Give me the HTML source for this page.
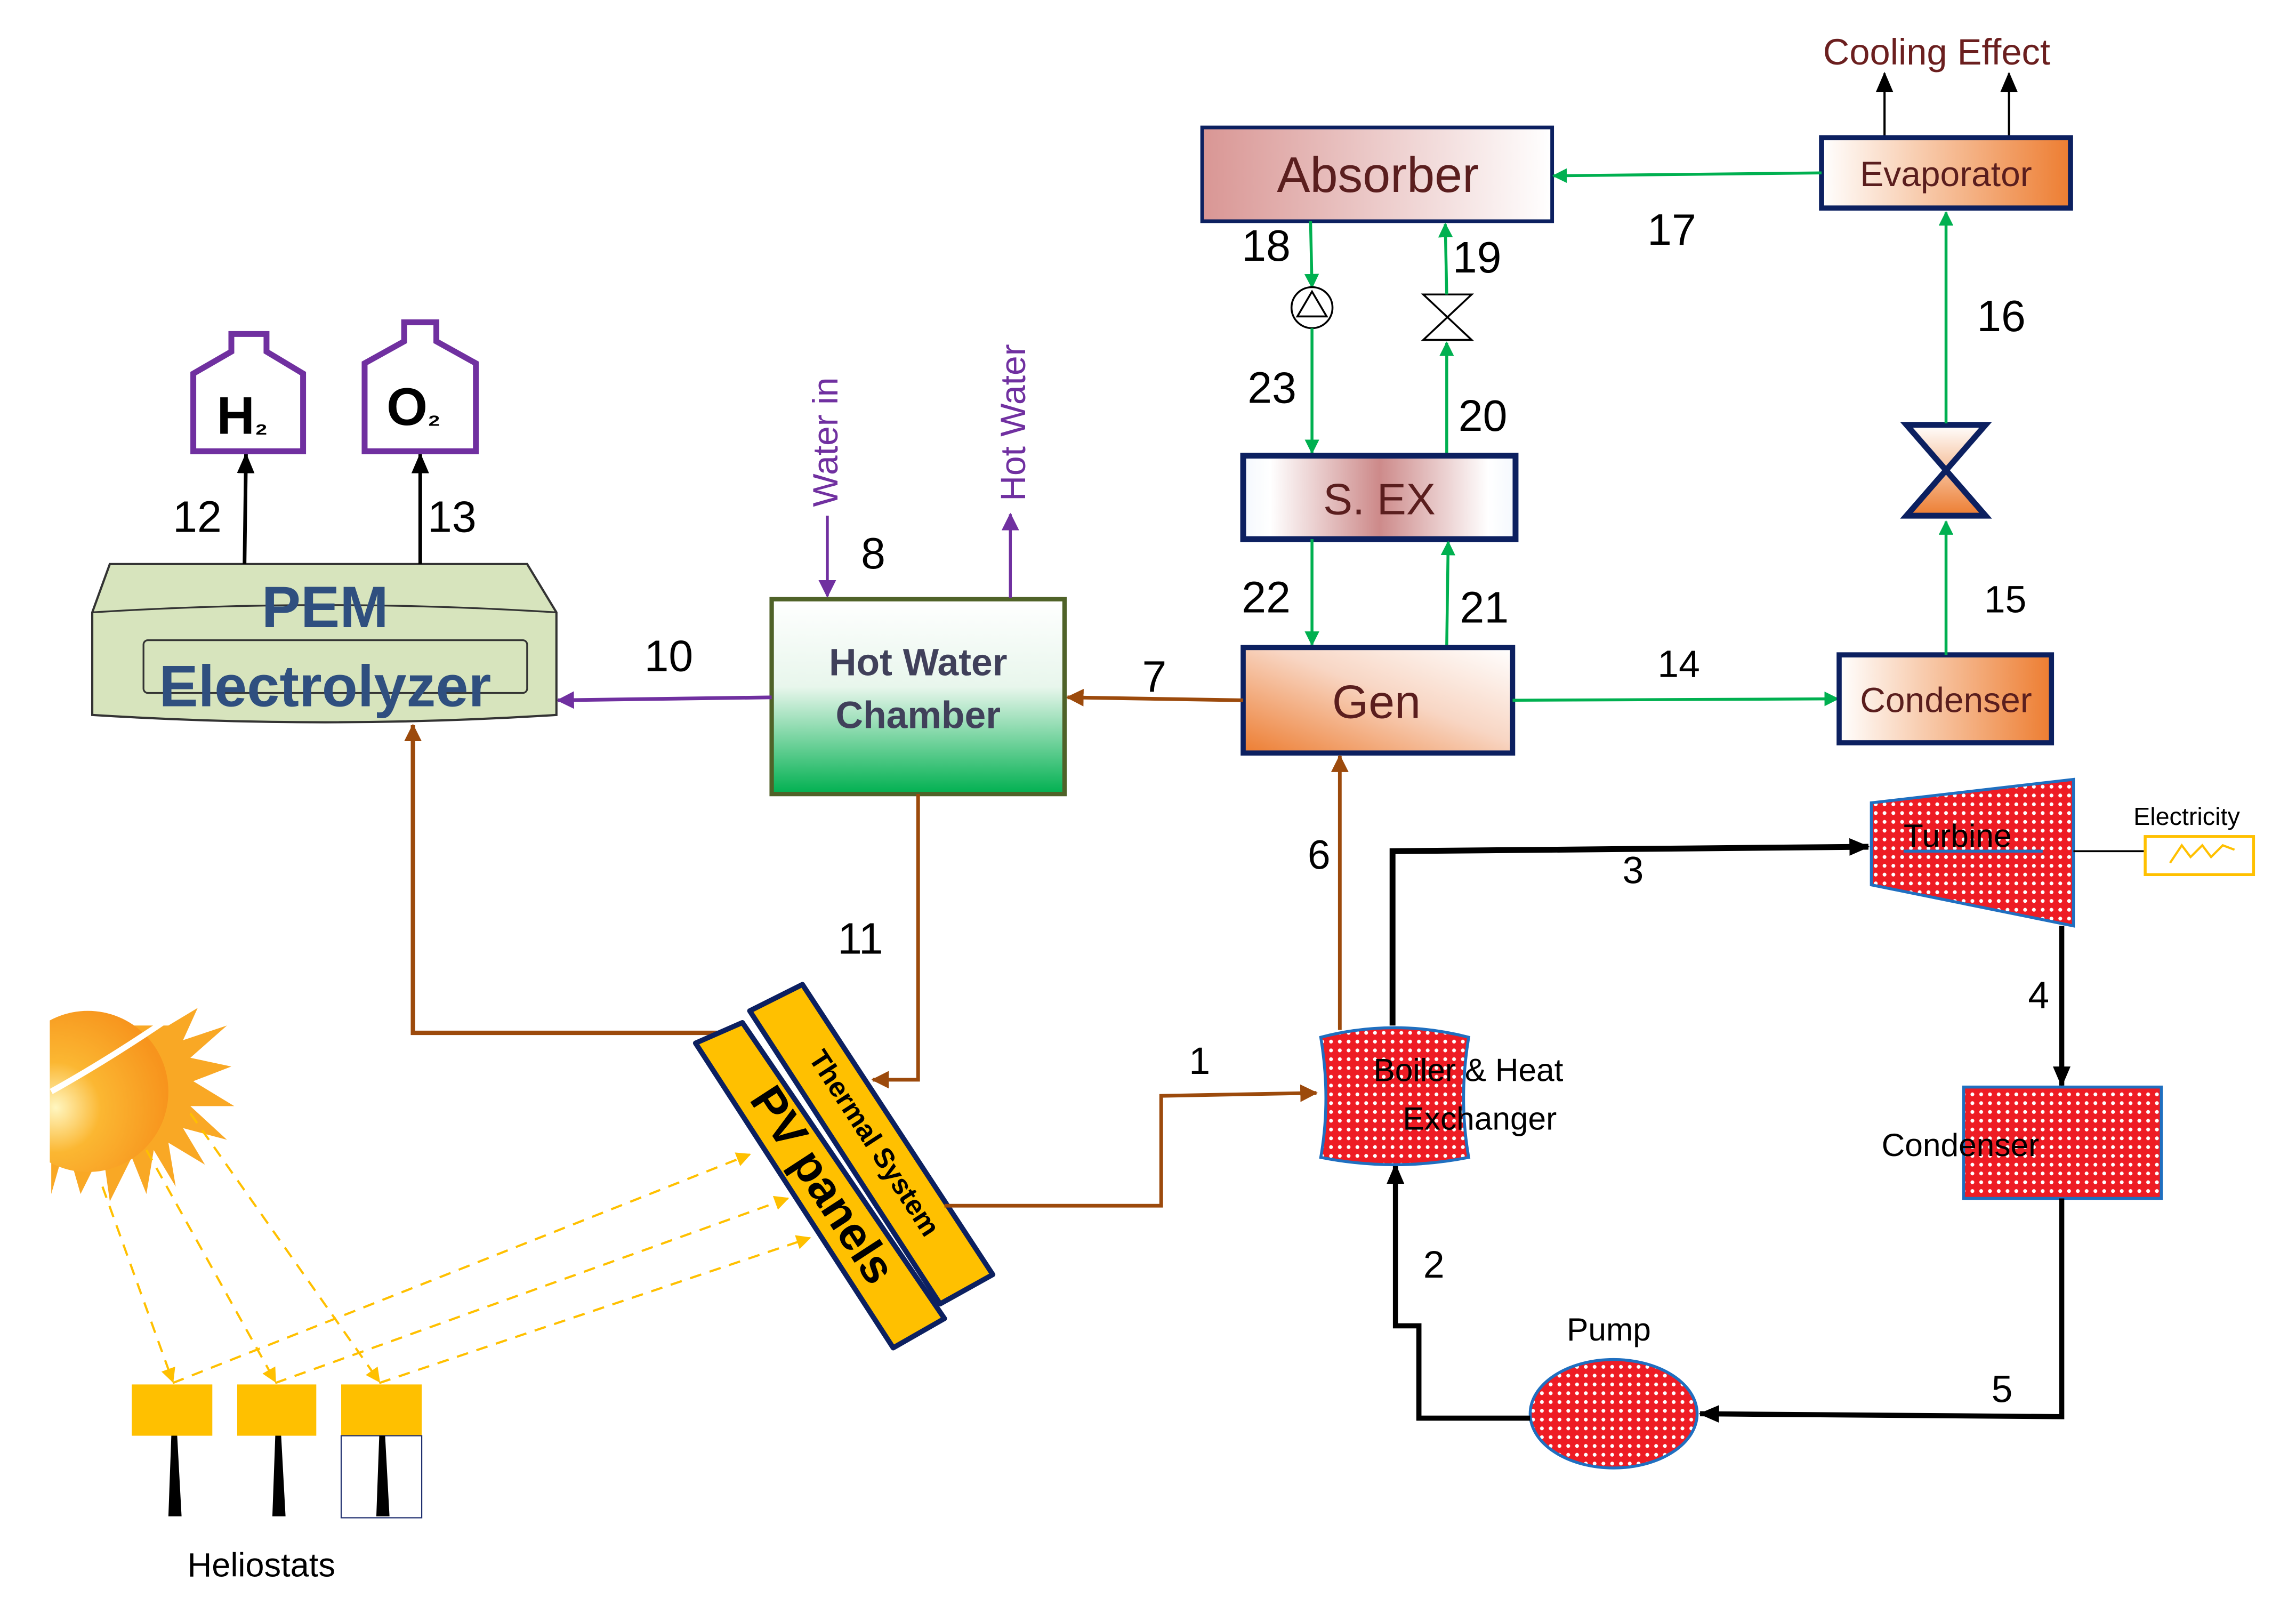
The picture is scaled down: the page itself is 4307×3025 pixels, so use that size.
<!DOCTYPE html>
<html><head><meta charset="utf-8"><style>
html,body{margin:0;padding:0;background:#fff;}
svg{display:block;}
text{font-family:"Liberation Sans",sans-serif;}
</style></head><body>
<svg width="4307" height="3025" viewBox="0 0 1568 1101" preserveAspectRatio="none" xmlns="http://www.w3.org/2000/svg">
<defs>
<pattern id="dots" width="6" height="6" patternUnits="userSpaceOnUse"><rect width="6" height="6" fill="#ee1c24"/><circle cx="3" cy="3" r="1.3" fill="#fff"/></pattern>
<linearGradient id="gAbs" x1="0" x2="1"><stop offset="0" stop-color="#d99694"/><stop offset="1" stop-color="#fff"/></linearGradient>
<linearGradient id="gEva" x1="0" x2="1"><stop offset="0" stop-color="#fff"/><stop offset="1" stop-color="#ed7d31"/></linearGradient>
<linearGradient id="gSex" x1="0" x2="1"><stop offset="0" stop-color="#f4f8fd"/><stop offset="0.1" stop-color="#fff"/><stop offset="0.5" stop-color="#cd8a8a"/><stop offset="0.9" stop-color="#fff"/><stop offset="1" stop-color="#f4f8fd"/></linearGradient>
<linearGradient id="gGen" x1="0" y1="1" x2="1" y2="0"><stop offset="0" stop-color="#ed7d31"/><stop offset="0.55" stop-color="#f8d6c4"/><stop offset="1" stop-color="#fff"/></linearGradient>
<linearGradient id="gHw" x1="0" y1="0" x2="0" y2="1"><stop offset="0" stop-color="#fff"/><stop offset="0.45" stop-color="#e8f6ec"/><stop offset="1" stop-color="#00b050"/></linearGradient>
<linearGradient id="gVal" x1="0" y1="0" x2="0" y2="1"><stop offset="0" stop-color="#fff"/><stop offset="1" stop-color="#ed7d31"/></linearGradient>
<radialGradient id="gSun" cx="0.3" cy="0.6" r="0.7"><stop offset="0" stop-color="#fff6c0"/><stop offset="0.4" stop-color="#fbb732"/><stop offset="1" stop-color="#f7941d"/></radialGradient>
<marker id="aG" markerWidth="10" markerHeight="10" refX="9" refY="5" orient="auto" markerUnits="userSpaceOnUse"><path d="M0,0 L10,5 L0,10 z" fill="#00b050"/></marker>
<marker id="aB" markerWidth="12" markerHeight="12" refX="11" refY="6" orient="auto" markerUnits="userSpaceOnUse"><path d="M0,0 L12,6 L0,12 z" fill="#9c4a0c"/></marker>
<marker id="aP" markerWidth="12" markerHeight="12" refX="11" refY="6" orient="auto" markerUnits="userSpaceOnUse"><path d="M0,0 L12,6 L0,12 z" fill="#7030a0"/></marker>
<marker id="aK" markerWidth="14" markerHeight="14" refX="13" refY="7" orient="auto" markerUnits="userSpaceOnUse"><path d="M0,1 L14,7 L0,13 z" fill="#000"/></marker>
<marker id="aY" markerWidth="10" markerHeight="10" refX="9" refY="5" orient="auto" markerUnits="userSpaceOnUse"><path d="M0,0 L10,5 L0,10 z" fill="#ffc000"/></marker>
</defs>

<text x="1245" y="44" font-size="25" fill="#6b1f1f">Cooling Effect</text>
<line x1="1287" y1="93" x2="1287" y2="50" stroke="#000" stroke-width="1.5" marker-end="url(#aK)"/>
<line x1="1372" y1="93" x2="1372" y2="50" stroke="#000" stroke-width="1.5" marker-end="url(#aK)"/>

<rect x="1244" y="94" width="170" height="48" fill="url(#gEva)" stroke="#0c2060" stroke-width="3.5"/>
<text x="1329" y="127" font-size="24" fill="#5a1e1e" text-anchor="middle">Evaporator</text>
<rect x="821" y="87" width="239" height="64" fill="url(#gAbs)" stroke="#0c2060" stroke-width="2.5"/>
<text x="941" y="131" font-size="34" fill="#5a1e1e" text-anchor="middle">Absorber</text>
<line x1="1244" y1="118" x2="1061" y2="120" stroke="#00b050" stroke-width="2" marker-end="url(#aG)"/>
<text x="1125" y="167" font-size="30">17</text>

<line x1="895" y1="151" x2="896" y2="196" stroke="#00b050" stroke-width="2" marker-end="url(#aG)"/>
<circle cx="896" cy="210" r="14" fill="#fff" stroke="#000" stroke-width="1.3"/>
<path d="M896,199 L886,216 L906,216 z" fill="none" stroke="#000" stroke-width="1.3"/>
<line x1="896" y1="224" x2="896" y2="309" stroke="#00b050" stroke-width="2" marker-end="url(#aG)"/>
<text x="848" y="178" font-size="30">18</text>
<text x="852" y="275" font-size="30">23</text>
<path d="M972,201 L1005,201 L972,232 L1005,232 z" fill="#fff" stroke="#000" stroke-width="1.3"/>
<line x1="988" y1="310" x2="988" y2="234" stroke="#00b050" stroke-width="2" marker-end="url(#aG)"/>
<line x1="988" y1="201" x2="987" y2="153" stroke="#00b050" stroke-width="2" marker-end="url(#aG)"/>
<text x="992" y="186" font-size="30">19</text>
<text x="996" y="294" font-size="30">20</text>

<rect x="849" y="311" width="186" height="57" fill="url(#gSex)" stroke="#0c2060" stroke-width="4"/>
<text x="942" y="351" font-size="30" fill="#5a1e1e" text-anchor="middle">S. EX</text>
<line x1="896" y1="368" x2="896" y2="440" stroke="#00b050" stroke-width="2" marker-end="url(#aG)"/>
<line x1="988" y1="441" x2="989" y2="370" stroke="#00b050" stroke-width="2" marker-end="url(#aG)"/>
<text x="848" y="418" font-size="30">22</text>
<text x="997" y="425" font-size="30">21</text>

<rect x="849" y="442" width="184" height="72" fill="url(#gGen)" stroke="#0c2060" stroke-width="3.5"/>
<text x="940" y="490" font-size="32" fill="#5a1e1e" text-anchor="middle">Gen</text>
<line x1="1033" y1="478" x2="1255" y2="477" stroke="#00b050" stroke-width="2" marker-end="url(#aG)"/>
<text x="1132" y="462" font-size="26">14</text>

<rect x="1256" y="447" width="145" height="60" fill="url(#gEva)" stroke="#0c2060" stroke-width="3.5"/>
<text x="1329" y="486" font-size="24" fill="#5a1e1e" text-anchor="middle">Condenser</text>
<line x1="1329" y1="447" x2="1329" y2="356" stroke="#00b050" stroke-width="2" marker-end="url(#aG)"/>
<text x="1355" y="418" font-size="26">15</text>
<path d="M1302,290 L1356,290 L1302,352 L1356,352 z" fill="url(#gVal)" stroke="#0c2060" stroke-width="4" stroke-linejoin="miter"/>
<line x1="1329" y1="289" x2="1329" y2="145" stroke="#00b050" stroke-width="2" marker-end="url(#aG)"/>
<text x="1350" y="226" font-size="30">16</text>

<polygon points="1278,548 1416,532 1416,632 1278,604" fill="url(#dots)" stroke="#1f6fc0" stroke-width="2"/>
<line x1="1300" y1="581" x2="1395" y2="581" stroke="#1f6fc0" stroke-width="2"/>
<text x="1300" y="578" font-size="22">Turbine</text>
<line x1="1416" y1="581" x2="1465" y2="581" stroke="#000" stroke-width="1.3"/>
<rect x="1465" y="571" width="74" height="26" fill="#fff" stroke="#ffc000" stroke-width="2"/>
<path d="M1482,589 L1490,577 L1496,585 L1504,577 L1510,585 L1518,577 L1526,580" fill="none" stroke="#ffc000" stroke-width="1.5"/>
<text x="1457" y="563" font-size="17">Electricity</text>
<polyline points="951,700 951,581 1276,578" fill="none" stroke="#000" stroke-width="4" marker-end="url(#aK)"/>
<text x="1108" y="603" font-size="26">3</text>
<line x1="1408" y1="632" x2="1408" y2="741" stroke="#000" stroke-width="3.5" marker-end="url(#aK)"/>
<text x="1385" y="688" font-size="26">4</text>
<rect x="1341" y="742" width="135" height="76" fill="url(#dots)" stroke="#1f6fc0" stroke-width="2"/>
<text x="1285" y="789" font-size="22">Condenser</text>
<polyline points="1408,818 1408,967 1161,965" fill="none" stroke="#000" stroke-width="3.5" marker-end="url(#aK)"/>
<text x="1360" y="957" font-size="26">5</text>
<ellipse cx="1102" cy="965" rx="57" ry="37" fill="url(#dots)" stroke="#1f6fc0" stroke-width="2"/>
<text x="1070" y="915" font-size="22">Pump</text>
<polyline points="1045,968 969,968 969,905 953,905 953,795" fill="none" stroke="#000" stroke-width="3.5" marker-end="url(#aK)"/>
<text x="972" y="872" font-size="26">2</text>
<path d="M902,708 Q952,695 1003,708 Q996,750 1003,790 Q952,800 902,790 Q909,750 902,708 z" fill="url(#dots)" stroke="#1f6fc0" stroke-width="2"/>
<text x="938" y="738" font-size="22">Boiler &amp; Heat</text>
<text x="958" y="771" font-size="22">Exchanger</text>
<line x1="915" y1="703" x2="915" y2="516" stroke="#9c4a0c" stroke-width="2.5" marker-end="url(#aB)"/>
<text x="893" y="593" font-size="28">6</text>

<line x1="849" y1="478" x2="729" y2="476" stroke="#9c4a0c" stroke-width="2.5" marker-end="url(#aB)"/>
<text x="780" y="472" font-size="30">7</text>
<rect x="527" y="409" width="200" height="133" fill="url(#gHw)" stroke="#4f6228" stroke-width="3"/>
<text x="627" y="461" font-size="26" font-weight="bold" fill="#40405a" text-anchor="middle">Hot Water</text>
<text x="627" y="497" font-size="26" font-weight="bold" fill="#40405a" text-anchor="middle">Chamber</text>
<line x1="527" y1="476" x2="381" y2="478" stroke="#7030a0" stroke-width="2.5" marker-end="url(#aP)"/>
<text x="440" y="458" font-size="30">10</text>
<text transform="translate(572,346) rotate(-90)" font-size="24" fill="#7030a0">Water in</text>
<line x1="565" y1="352" x2="565" y2="407" stroke="#7030a0" stroke-width="2" marker-end="url(#aP)"/>
<text x="588" y="388" font-size="30">8</text>
<line x1="690" y1="408" x2="690" y2="351" stroke="#7030a0" stroke-width="2" marker-end="url(#aP)"/>
<text transform="translate(700,342) rotate(-90)" font-size="24" fill="#7030a0">Hot Water</text>
<polyline points="627,542 627,737 596,737" fill="none" stroke="#9c4a0c" stroke-width="2.5" marker-end="url(#aB)"/>
<text x="572" y="651" font-size="30">11</text>

<path d="M63,418 L75,385 L360,385 L380,418 L380,488 Q222,498 63,488 z" fill="#d7e4bd" stroke="#333" stroke-width="1.5"/>
<path d="M63,418 Q222,408 380,418" fill="none" stroke="#333" stroke-width="1.2"/>
<rect x="98" y="437" width="262" height="36" rx="3" fill="none" stroke="#333" stroke-width="1.2"/>
<text x="222" y="428" font-size="40" font-weight="bold" fill="#2f4f7f" text-anchor="middle">PEM</text>
<text x="222" y="482" font-size="40" font-weight="bold" fill="#2f4f7f" text-anchor="middle">Electrolyzer</text>
<line x1="167" y1="385" x2="168" y2="310" stroke="#000" stroke-width="2.5" marker-end="url(#aK)"/>
<line x1="287" y1="385" x2="287" y2="310" stroke="#000" stroke-width="2.5" marker-end="url(#aK)"/>
<text x="118" y="363" font-size="30">12</text>
<text x="292" y="363" font-size="30">13</text>
<polygon points="132,308 132,255 158,240 158,228 182,228 182,240 207,255 207,308" fill="#fff" stroke="#7030a0" stroke-width="4"/>
<text x="148" y="296" font-size="36" font-weight="bold">H<tspan font-size="20">₂</tspan></text>
<polygon points="249,308 249,248 276,233 276,220 298,220 298,233 325,248 325,308" fill="#fff" stroke="#7030a0" stroke-width="4"/>
<text x="264" y="290" font-size="36" font-weight="bold">O<tspan font-size="20">₂</tspan></text>
<polyline points="490,705 282,705 282,495" fill="none" stroke="#9c4a0c" stroke-width="3" marker-end="url(#aB)"/>

<polygon points="512,690 548,672 678,870 642,890" fill="#ffc000" stroke="#0c2060" stroke-width="3.5" stroke-linejoin="round"/>
<polygon points="475,712 507,698 645,900 610,920" fill="#ffc000" stroke="#0c2060" stroke-width="3.5" stroke-linejoin="round"/>
<text transform="translate(596,781) rotate(57)" font-size="19" font-weight="bold" text-anchor="middle" dominant-baseline="middle">Thermal System</text>
<text transform="translate(560,810) rotate(57)" font-size="32" font-weight="bold" text-anchor="middle" dominant-baseline="middle">PV panels</text>
<polyline points="645,823 793,823 793,748 899,746" fill="none" stroke="#9c4a0c" stroke-width="2.5" marker-end="url(#aB)"/>
<text x="812" y="733" font-size="26">1</text>

<g>
<path d="M35,815 L45,780 L55,815 L70,785 L75,820 L90,790 L100,815 L105,785 L120,810 L115,780 L140,795 L125,770 L155,778 L130,755 L160,755 L132,738 L158,728 L130,722 L155,700 L125,710 L135,688 L115,700 L35,700 z" fill="#f9a825"/>
<circle cx="60" cy="745" r="55" fill="url(#gSun)"/>
<path d="M35,745 Q80,720 130,685" fill="none" stroke="#fff" stroke-width="4"/>
<rect x="0" y="680" width="34" height="150" fill="#fff"/>
</g>
<g stroke="#ffc000" stroke-width="1.5" stroke-dasharray="8,6" fill="none">
<line x1="70" y1="810" x2="118" y2="943" marker-end="url(#aY)"/>
<line x1="100" y1="785" x2="188" y2="943" marker-end="url(#aY)"/>
<line x1="130" y1="760" x2="259" y2="943" marker-end="url(#aY)"/>
<line x1="118" y1="944" x2="512" y2="788" marker-end="url(#aY)"/>
<line x1="188" y1="944" x2="538" y2="818" marker-end="url(#aY)"/>
<line x1="259" y1="944" x2="553" y2="845" marker-end="url(#aY)"/>
</g>
<rect x="90" y="945" width="55" height="35" fill="#ffc000"/>
<rect x="162" y="945" width="54" height="35" fill="#ffc000"/>
<rect x="233" y="945" width="55" height="35" fill="#ffc000"/>
<rect x="233" y="980" width="55" height="56" fill="#fff" stroke="#1f2f6f" stroke-width="0.8"/>
<polygon points="115,1035 124,1035 121,980 117,980" fill="#000"/>
<polygon points="186,1035 195,1035 192,980 188,980" fill="#000"/>
<polygon points="257,1035 266,1035 263,980 259,980" fill="#000"/>
<text x="128" y="1076" font-size="23">Heliostats</text>
</svg>
</body></html>
